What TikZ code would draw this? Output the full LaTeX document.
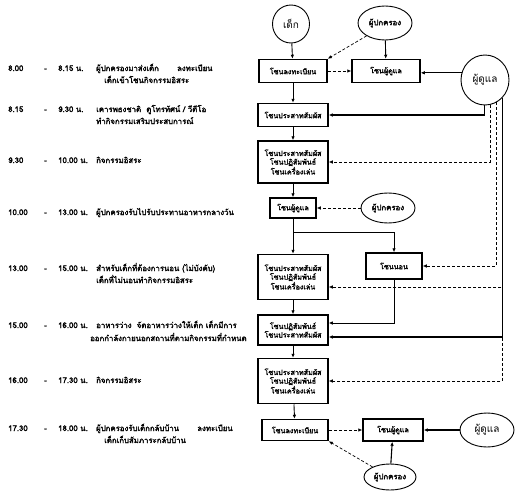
\documentclass[tikz,border=0pt]{standalone}
\usepackage{fontspec}
\newfontfamily\thai[Script=Thai]{Loma}
\newfontfamily\thaib[Script=Thai,FakeBold=2.2]{Loma}
\usetikzlibrary{shapes.geometric,arrows.meta}
\begin{document}
\begin{tikzpicture}[x=1pt,y=-1pt,
 zbox/.style={draw,line width=1.5pt,rectangle,align=center,inner sep=1pt,font=\thaib\fontsize{7.2}{8.6}\selectfont},
 actor/.style={draw,line width=0.9pt,ellipse,inner sep=0pt,font=\thai\fontsize{10}{11}\selectfont},
 actorb/.style={actor,font=\thaib\fontsize{7.8}{9}\selectfont},
 lbl/.style={anchor=base west,inner sep=0pt,font=\thaib\fontsize{7.8}{9}\selectfont},
 arr/.style={-{Latex[length=4pt,width=3.5pt]},line width=0.9pt},
 darr/.style={arr,dash pattern=on 3pt off 2pt,line width=0.7pt},
]
\useasboundingbox[fill=white] (0,0) rectangle (524,495);

% ---- left column: schedule ----
\node[lbl] (t1a) at (8,71) {8.00};   \node[lbl] (t1b) at (44,71) {-}; \node[lbl] (t1c) at (58,71) {8.15 น.};
\node[lbl] (t1d) at (96,71) {ผู้ปกครองมาส่งเด็ก \qquad ลงทะเบียน};
\node[lbl] (t1e) at (104,83) {เด็กเข้าโซนกิจกรรมอิสระ};

\node[lbl] (t2a) at (8,112) {8.15};  \node[lbl] (t2b) at (44,112) {-}; \node[lbl] (t2c) at (58,112) {9.30 น.};
\node[lbl] (t2d) at (96,112) {เคารพธงชาติ \ ดูโทรทัศน์ / วีดีโอ};
\node[lbl] (t2e) at (96,124) {ทำกิจกรรมเสริมประสบการณ์};

\node[lbl] (t3a) at (8,163) {9.30};  \node[lbl] (t3b) at (44,163) {-}; \node[lbl] (t3c) at (58,163) {10.00 น.};
\node[lbl] (t3d) at (96,163) {กิจกรรมอิสระ};

\node[lbl] (t4a) at (8,215) {10.00}; \node[lbl] (t4b) at (44,215) {-}; \node[lbl] (t4c) at (58,215) {13.00 น.};
\node[lbl] (t4d) at (96,215) {ผู้ปกครองรับไปรับประทานอาหารกลางวัน};

\node[lbl] (t5a) at (8,271) {13.00}; \node[lbl] (t5b) at (44,271) {-}; \node[lbl] (t5c) at (58,271) {15.00 น.};
\node[lbl] (t5d) at (96,271) {สำหรับเด็กที่ต้องการนอน (ไม่บังคับ)};
\node[lbl] (t5e) at (96,283) {เด็กที่ไม่นอนทำกิจกรรมอิสระ};

\node[lbl] (t6a) at (8,328) {15.00}; \node[lbl] (t6b) at (44,328) {-}; \node[lbl] (t6c) at (58,328) {16.00 น.};
\node[lbl] (t6d) at (96,328) {อาหารว่าง \ จัดอาหารว่างให้เด็ก เด็กมีการ};
\node[lbl] (t6e) at (90,341) {ออกกำลังกายนอกสถานที่ตามกิจกรรมที่กำหนด};

\node[lbl] (t7a) at (8,383) {16.00}; \node[lbl] (t7b) at (44,383) {-}; \node[lbl] (t7c) at (58,383) {17.30 น.};
\node[lbl] (t7d) at (96,383) {กิจกรรมอิสระ};

\node[lbl] (t8a) at (8,431) {17.30}; \node[lbl] (t8b) at (44,431) {-}; \node[lbl] (t8c) at (58,431) {18.00 น.};
\node[lbl] (t8d) at (96,431) {ผู้ปกครองรับเด็กกลับบ้าน \qquad ลงทะเบียน};
\node[lbl] (t8e) at (104,443) {เด็กเก็บสัมภาระกลับบ้าน};

% ---- actors ----
\node[actor, minimum width=37, minimum height=38] (child) at (291,24) {เด็ก};
\node[actorb, minimum width=54, minimum height=34] (parT) at (385,23) {ผู้ปกครอง};
\node[actor, minimum width=48, minimum height=50] (careT) at (485,80) {ผู้ดูแล};
\node[actorb, minimum width=54, minimum height=30] (parM) at (388,208) {ผู้ปกครอง};
\node[actor, minimum width=54, minimum height=34] (careB) at (487,430) {ผู้ดูแล};
\node[actorb, minimum width=52, minimum height=26] (parB) at (390,477) {ผู้ปกครอง};

% ---- zones ----
\node[zbox, minimum width=68, minimum height=23] (b1) at (293,71) {โซนลงทะเบียน};
\node[zbox, minimum width=68, minimum height=23] (b2) at (386,71) {โซนผู้ดูแล};
\node[zbox, minimum width=70, minimum height=23] (b3) at (293,115) {โซนประสาทสัมผัส};
\node[zbox, minimum width=70, minimum height=42] (b4) at (293,162) {โซนประสาทสัมผัส\\โซนปฏิสัมพันธ์\\โซนเครื่องเล่น};
\node[zbox, minimum width=46, minimum height=20] (b5) at (293,208) {โซนผู้ดูแล};
\node[zbox, minimum width=70, minimum height=45] (b6) at (293,277) {โซนประสาทสัมผัส\\โซนปฏิสัมพันธ์\\โซนเครื่องเล่น};
\node[zbox, minimum width=56, minimum height=26] (b7) at (394,266) {โซนนอน};
\node[zbox, minimum width=70, minimum height=30] (b8) at (293,330) {โซนปฏิสัมพันธ์\\โซนประสาทสัมผัส};
\node[zbox, minimum width=70, minimum height=45] (b9) at (293,381) {โซนประสาทสัมผัส\\โซนปฏิสัมพันธ์\\โซนเครื่องเล่น};
\node[zbox, minimum width=66, minimum height=21] (b10) at (295,430) {โซนลงทะเบียน};
\node[zbox, minimum width=60, minimum height=22] (b11) at (393,430) {โซนผู้ดูแล};

% ---- connectors ----
\draw[arr] (child) -- (b1);
\draw[arr] (parT) -- (b2);
\draw[darr] (parT.215) -- (b1.north east);
\draw[darr] (b1) -- (b2);
\draw[arr,line width=1.1pt] (careT.163) -- (careT.163 -| b2.east);
\draw[arr] (b1) -- (b3);
\draw[arr,line width=1.1pt] (careT.268) |- (b3.east);
\draw[arr] (b3) -- (b4);
\draw[darr] (careT.281) |- (b4.east);
\draw[arr] (b4) -- (b5);
\draw[darr] (parM) -- (b5);
\coordinate (sp) at (293,232);
\draw[line width=0.9pt] (b5) -- (sp);
\draw[arr] (sp) -- (b6);
\draw[arr] (sp) -| (b7.north);
\draw[darr] (careT.297) |- (b7.east);
\draw[darr] (careT.314) |- ([yshift=-10pt]b6.east);
\draw[arr] (b6) -- (b8);
\draw[arr] (b7.south) |- ([yshift=7pt]b8.east);
\draw[arr,line width=1.1pt] (careT.314) |- ([yshift=-7pt]b8.east);
\draw[darr] (careT.314) |- (b9.east);
\draw[arr] (b8) -- (b9);
\draw[arr] (b9) -- (b10);
\draw[darr] (b10) -- (b11);
\draw[arr,line width=1.1pt] (careB) -- (b11);
\draw[arr,line width=1.1pt] (parB) -- (b11);
\draw[darr] (parB.150) -- (b10.south east);
\end{tikzpicture}
\end{document}
